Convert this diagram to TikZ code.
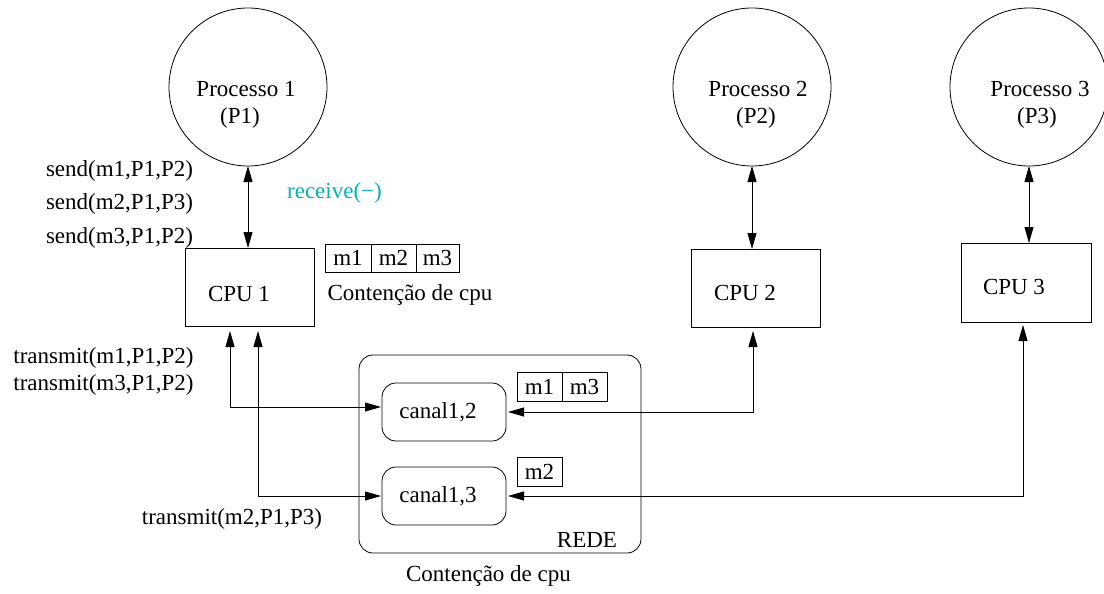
\documentclass[tikz,border=0pt]{standalone}
\usepackage{fontspec}
\setmainfont{Liberation Serif}
\usetikzlibrary{arrows.meta}
\definecolor{recvcol}{RGB}{0,178,178}
\begin{document}
\begin{tikzpicture}[x=1pt,y=-1pt,
  font=\fontsize{23}{27}\selectfont,
  every node/.style={inner sep=0pt, outer sep=0pt},
  proc/.style={draw, circle, minimum size=158pt, line width=0.8pt},
  box/.style={draw, rectangle, line width=0.8pt},
  rbox/.style={draw, rectangle, rounded corners=14pt, line width=0.8pt},
  lbl/.style={anchor=base},
  dbl/.style={{Triangle[length=16pt,width=9pt]}-{Triangle[length=16pt,width=9pt]}, line width=0.8pt},
]
\useasboundingbox (0,0) rectangle (1104,594);

% processes
\node[proc] (p1) at (248,87) {};
\node[proc] (p2) at (752,87) {};
\node[proc] (p3) at (1029,87) {};
\node[lbl] (p1a) at (246,97) {Processo 1};
\node[lbl] (p1b) at (240,123) {(P1)};
\node[lbl] (p2a) at (758,97) {Processo 2};
\node[lbl] (p2b) at (756,123) {(P2)};
\node[lbl] (p3a) at (1040,97) {Processo 3};
\node[lbl] (p3b) at (1037,123) {(P3)};

% CPUs
\node[box, minimum width=129pt, minimum height=78pt] (cpu1) at (249.5,287) {};
\node[box, minimum width=129pt, minimum height=78pt] (cpu2) at (755.5,288) {};
\node[box, minimum width=130pt, minimum height=79pt] (cpu3) at (1026,282.5) {};
\node[lbl] (cpu1t) at (239,301) {CPU 1};
\node[lbl] (cpu2t) at (745,300) {CPU 2};
\node[lbl] (cpu3t) at (1014,294) {CPU 3};

% process <-> cpu
\draw[dbl] (p1.south) -- (p1.south |- cpu1.north);
\draw[dbl] (p2.south) -- (p2.south |- cpu2.north);
\draw[dbl] (p3.south) -- (p3.south |- cpu3.north);

% labels left
\node[lbl] (snd1) at (119.5,176) {send(m1,P1,P2)};
\node[lbl] (snd2) at (119.5,209.5) {send(m2,P1,P3)};
\node[lbl] (snd3) at (119.5,243) {send(m3,P1,P2)};
\node[lbl, text=recvcol] (rcv) at (334.5,198) {receive(−)};

% queue at cpu1
\node[box, minimum width=46pt, minimum height=28pt] (q1) at (348,258) {m1};
\node[box, minimum width=45pt, minimum height=28pt] (q2) at (393.5,258) {m2};
\node[box, minimum width=43pt, minimum height=28pt] (q3) at (437.5,258) {m3};
\node[lbl] (cont1) at (410,300) {Contenção de cpu};

% network
\node[rbox, minimum width=282pt, minimum height=198pt] (rede) at (500,454) {};
\node[lbl] (redet) at (587,547) {REDE};
\node[rbox, minimum width=124pt, minimum height=58pt] (can12) at (444,412) {};
\node[rbox, minimum width=124pt, minimum height=58pt] (can13) at (444,496) {};
\node[lbl] (can12t) at (438,418) {canal1,2};
\node[lbl] (can13t) at (438,502) {canal1,3};
\node[box, minimum width=45pt, minimum height=29pt] (r1) at (539.5,386.5) {m1};
\node[box, minimum width=45pt, minimum height=29pt] (r2) at (584.5,386.5) {m3};
\node[box, minimum width=45pt, minimum height=29pt] (s1) at (539.5,471.5) {m2};

\node[lbl] (tr1) at (103.5,363) {transmit(m1,P1,P2)};
\node[lbl] (tr2) at (103.5,390) {transmit(m3,P1,P2)};
\node[lbl] (tr3) at (232,524) {transmit(m2,P1,P3)};
\node[lbl] (cont2) at (488.5,581) {Contenção de cpu};

% connectors
\coordinate (t1) at (230,407);
\coordinate (t2) at (258,496);
\coordinate (t3) at (753,412);
\coordinate (t4) at (1023,496);
\draw[dbl, shorten <=5pt, shorten >=1pt] (t1 |- cpu1.south) -- (t1) -- (t1 -| can12.west);
\draw[dbl, shorten <=5pt, shorten >=1pt] (t2 |- cpu1.south) -- (t2) -- (t2 -| can13.west);
\draw[dbl, shorten <=2pt, shorten >=4pt] (can12.east |- t3) -- (t3) -- (t3 |- cpu2.south);
\draw[dbl, shorten <=2pt, shorten >=3pt] (can13.east |- t4) -- (t4) -- (t4 |- cpu3.south);
\end{tikzpicture}
\end{document}
